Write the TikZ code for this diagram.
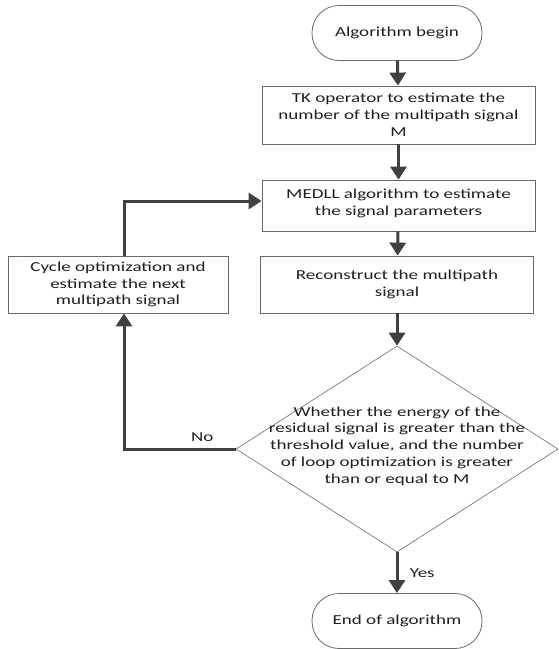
\documentclass[tikz,border=0pt]{standalone}
\usepackage{fontspec}
\setmainfont{Carlito}[FakeStretch=1.39]
\usetikzlibrary{shapes.geometric,arrows.meta}
\definecolor{arr}{HTML}{404040}
\definecolor{txt}{HTML}{1F1F1F}
\definecolor{bord}{HTML}{6A6A6A}
\begin{document}
\begin{tikzpicture}[x=1pt,y=-1pt,
  every node/.style={font=\fontsize{13.7}{16.8}\selectfont, text=txt},
  term/.style={draw=bord, line width=0.8pt, rectangle, rounded corners=27pt, minimum width=170pt, minimum height=55pt, inner sep=0pt},
  procbox/.style={draw=bord, line width=0.8pt, rectangle, minimum width=273pt, minimum height=57pt, inner sep=0pt, align=center},
  dec/.style={draw=bord, line width=0.6pt, diamond, minimum width=322pt, minimum height=206pt, inner sep=0pt, aspect=1.56},
  flow/.style={draw=arr, line width=3pt, -{Triangle[width=16pt,length=13pt]}},
  lbl/.style={font=\fontsize{13.7}{16.8}\selectfont}
]
\useasboundingbox (0,0) rectangle (558,649);
\node[term] (start) at (397,33) {Algorithm begin};
\node[procbox, minimum height=58pt] (tk) at (398.5,115) {TK operator to estimate the\\number of the multipath signal\\M};
\node[procbox, minimum height=51pt] (medll) at (398.5,205.5) {};
\node[lbl, align=center] (medlltext) at (398.5,203.5) {MEDLL algorithm to estimate\\the signal parameters};
\node[procbox, minimum height=57pt] (rec) at (397,284.5) {Reconstruct the multipath\\signal};
\node[procbox, minimum width=220pt, minimum height=57pt] (cyc) at (118,284.5) {Cycle optimization and\\estimate the next\\multipath signal};
\node[dec] (dec) at (397,449) {};
\node[align=center] (dectext) at (397,446) {Whether the energy of the\\residual signal is greater than the\\threshold value, and the number\\of loop optimization is greater\\than or equal to M};
\node[term] (end) at (397,621) {End of algorithm};
\coordinate (corner) at (124,449);
\coordinate (top) at (124,201);
\draw[flow] (start) -- (tk);
\draw[flow] (tk) -- (medll);
\draw[flow] (medll) -- (rec);
\draw[flow] (rec) -- (dec.north);
\draw[flow] (dec.south) -- node[lbl, right, xshift=8pt, pos=0.5] (yes) {Yes} (end);
\draw[flow] (dec.west) -- node[lbl, above, yshift=3pt, pos=0.3] (no) {No} (corner) -- (corner |- cyc.south);
\draw[flow] (cyc.north -| top) -- (top) -- (medll.west |- top);
\end{tikzpicture}
\end{document}
